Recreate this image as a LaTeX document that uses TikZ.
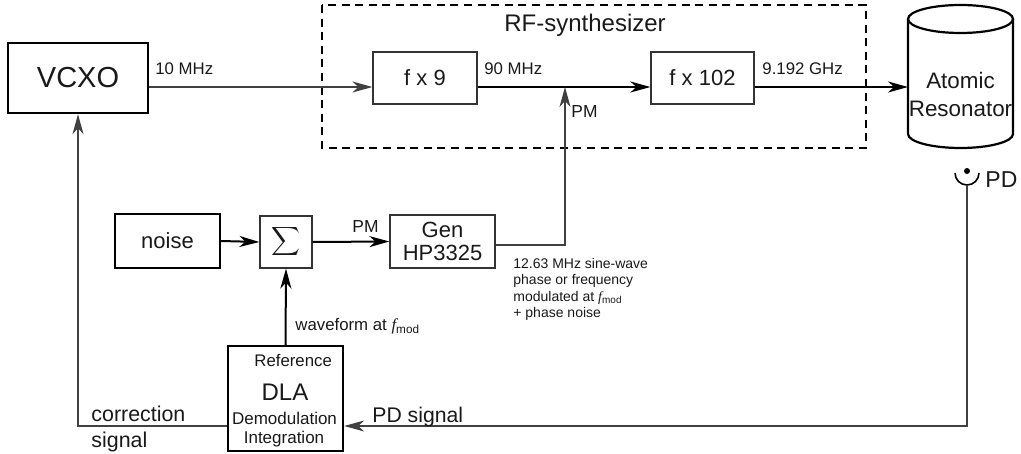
\documentclass[tikz,border=0pt]{standalone}
\usepackage{fontspec}
\setmainfont{Liberation Sans}
\newfontfamily\fmodfont{Liberation Serif}
\usetikzlibrary{arrows, arrows.meta}
\usetikzlibrary{positioning}
\usetikzlibrary{calc}
\newcommand{\fmod}{{\fmodfont\itshape f}\textsubscript{mod}}
\newcommand{\fs}[1]{\fontsize{#1}{1.2\dimexpr#1pt\relax}\selectfont}

\begin{document}
\begin{tikzpicture}[x=0.5pt, y=0.5pt, text=black!90,
					thickbox/.style={draw, line width=1.2pt, inner sep=0pt},
					thinbox/.style={draw, black!80, line width=0.6pt, inner sep=0pt, text=black!90},
					sig/.style={line width=1pt, -{Stealth[length=10pt, width=5.5pt, inset=3pt]}},
					thinsig/.style={line width=0.6pt, black!75, -{Stealth[length=10pt, width=5.5pt, inset=3pt]}},
					lbl/.style={inner sep=0pt, font=\fs{8.4}}]
					\useasboundingbox (0,0) rectangle (1021,-454);
					% draw blocks
					\node[thickbox, minimum width=70pt, minimum height=35pt, font=\fs{14.5}] (vcxo) at (78,-78) {VCXO};
					\node[thinbox, minimum width=52pt, minimum height=26pt, font=\fs{11}] (fx9) at (425,-78) {f x 9};
					\node[thinbox, minimum width=51.5pt, minimum height=26pt, font=\fs{11}] (fx102) at (702.5,-78) {f x 102};
					\node[thickbox, minimum width=52.5pt, minimum height=27pt, font=\fs{11}] (noise) at (167.5,-241) {noise};
					\node[thinbox, minimum width=26pt, minimum height=26pt] (sum) at (286,-242) {$\displaystyle\sum$};
					\node[thinbox, minimum width=52.5pt, minimum height=26.5pt, align=center, font=\fontsize{11}{11.5}\selectfont] (gen) at (442.5,-241.5) {Gen\\HP3325};
					\node[thickbox, minimum width=57.5pt, minimum height=52.5pt] (dla) at (285.5,-398.5) {};
					\node[inner sep=0pt, anchor=base west, font=\fs{8.4}] (dlaref) at (254,-366) {Reference};
					\node[inner sep=0pt, anchor=base, font=\fs{12}] (dlaname) at (285,-400) {DLA};
					\node[inner sep=0pt, anchor=base, font=\fs{8.5}] (dlademod) at (284.5,-424) {Demodulation};
					\node[inner sep=0pt, anchor=base, font=\fs{8.5}] (dlaint) at (284,-443) {Integration};
					% synthesizer frame
					\draw[line width=1.1pt, dash pattern=on 4pt off 2.8pt] (322,-5) rectangle (866,-148);
					\node[inner sep=0pt, anchor=base, font=\fs{12}] (rftitle) at (585,-32) {RF-synthesizer};
					% atomic resonator
					\node[align=center, inner sep=0pt, font=\fontsize{11.2}{14}\selectfont] (atom) at (960.5,-94) {Atomic\\Resonator};
					\draw[line width=1.1pt] (908,-19) -- (908,-134) arc[start angle=180, end angle=360, x radius=26.25pt, y radius=7pt] -- (1013,-19);
					\draw[line width=1.1pt] (960.5,-19) ellipse [x radius=26.25pt, y radius=7pt];
					% photodiode
					\draw[line width=0.8pt] (955,-173) arc[start angle=180, end angle=360, radius=6pt];
					\fill (967,-171) circle (1.5pt);
					\node[inner sep=0pt, anchor=base west, font=\fs{11.5}] (pdname) at (985,-188) {PD};
					% junctions
					\coordinate (atomin) at (908,-87);
					\coordinate (pmjoin) at (565,-87);
					\coordinate (pmturn) at (565,-245);
					\coordinate (pd) at (967,-185);
					\coordinate (pdturn) at (967,-426);
					\coordinate (corr) at (78,-426);
					% connections
					\draw[thinsig] (vcxo.east |- pmjoin) -- (fx9.west |- pmjoin);
					\draw[line width=1pt] (fx9.east |- pmjoin) -- (pmjoin);
					\draw[sig] (pmjoin) -- (fx102.west |- pmjoin);
					\draw[sig] (fx102.east |- pmjoin) -- (atomin);
					\draw[sig] (noise.east) -- (sum.west);
					\draw[sig] (sum.east) -- (gen.west);
					\draw[sig] (dla.north) -- (sum.south);
					\draw[thinsig] (gen.east |- pmturn) -- (pmturn) -- (pmjoin);
					\draw[thinsig] (pd) -- (pdturn) -- (dla.east |- pdturn);
					\draw[thinsig] (dla.west |- corr) -- (corr) -- (vcxo.south);
					% labels
					\node[lbl, anchor=base west] (f10) at (155,-75) {10 MHz};
					\node[lbl, anchor=base west] (f90) at (484,-75) {90 MHz};
					\node[lbl, anchor=base west] (fghz) at (762,-75) {9.192 GHz};
					\node[lbl, anchor=base west, font=\fs{8.7}] (pmtop) at (352,-232) {PM};
					\node[lbl, anchor=base west, font=\fs{8.7}] (pmright) at (571,-118) {PM};
					\node[lbl, anchor=base west] (wave) at (295,-330) {waveform at \fmod};
					\node[lbl, anchor=north west, align=left, font=\fontsize{7}{8.2}\selectfont] (sine) at (513,-258) {12.63 MHz sine-wave\\phase or frequency\\modulated at \fmod\\+ phase noise};
					\node[inner sep=0pt, anchor=base west, font=\fs{10.6}] (pdsig) at (372,-422) {PD signal};
					\node[inner sep=0pt, anchor=base west, font=\fs{10.7}] (corrtxt) at (91,-421) {correction};
					\node[inner sep=0pt, anchor=base west, font=\fs{10.7}] (corrsig) at (91,-447) {signal};
				\end{tikzpicture}
\end{document}
